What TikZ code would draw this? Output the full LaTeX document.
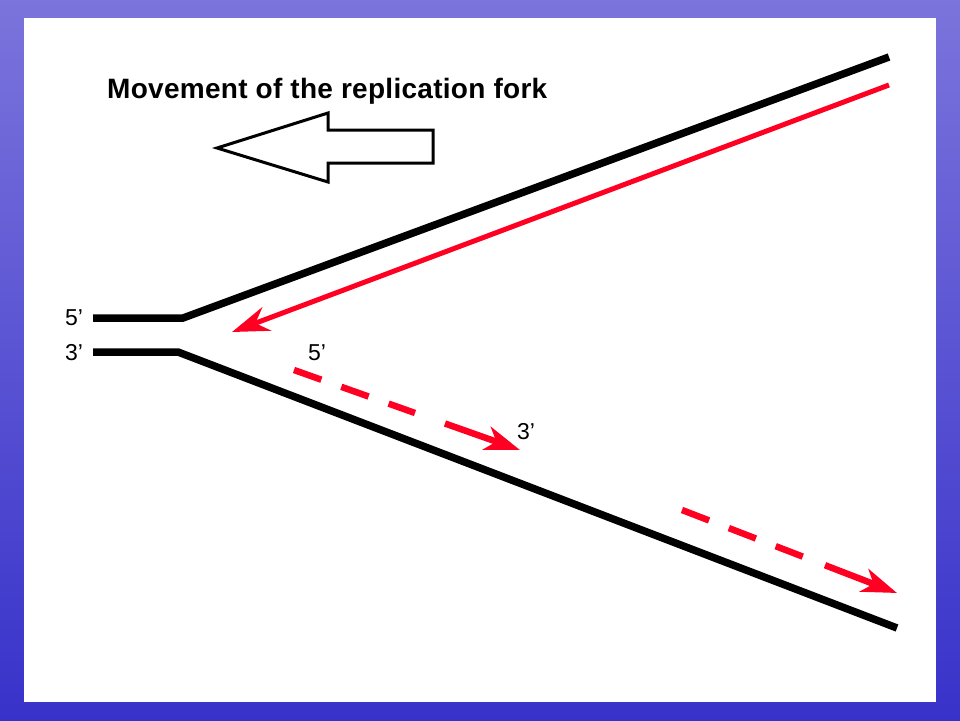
\documentclass[tikz,border=0pt]{standalone}
\usepackage{fontspec}
\setmainfont{Liberation Sans}
\usetikzlibrary{arrows.meta}
\definecolor{bgtop}{RGB}{123,116,220}
\definecolor{bgbot}{RGB}{56,50,202}
\definecolor{dnared}{RGB}{255,0,34}
\tikzset{
  strand/.style={line width=7.5pt, line cap=butt, line join=miter},
  newstrand/.style={dnared, line width=5pt, -{Stealth[length=37pt,width=25pt,inset=12pt]}},
  lagdash/.style={dnared, line width=6.5pt, dash pattern=on 29pt off 21.2pt},
  lagtip/.style={dnared, line width=6.5pt, -{Stealth[length=35pt,width=24pt,inset=10pt]}},
  endlabel/.style={font=\fontsize{23}{23}\selectfont, anchor=base west, inner sep=0pt},
  titlelabel/.style={font=\fontsize{28}{28}\selectfont\bfseries\addfontfeatures{LetterSpace=1.0}, anchor=base west, inner sep=0pt},
  hollowarrow/.style={draw=black, fill=white, line width=3pt, line join=miter},
}
\begin{document}
\begin{tikzpicture}[x=1pt,y=-1pt]
\useasboundingbox (0,0) rectangle (960,720);
\shade[top color=bgtop,bottom color=bgbot] (0,0) rectangle (960,720);
\fill[white] (24,18) rectangle (936,702);

% title and direction arrow
\node[titlelabel] (title) at (107,98) {Movement of the replication fork};
\draw[hollowarrow] (217,148) -- (328,113) -- (328,130) -- (433,130) -- (433,163) -- (328,163) -- (328,182) -- cycle;

% parental strands
\coordinate (t0) at (93,318);
\coordinate (t1) at (183,318);
\coordinate (t2) at (889,57);
\coordinate (b0) at (93,352);
\coordinate (b1) at (178,352);
\coordinate (b2) at (897,628);
\draw[strand] (t0) -- (t1) -- (t2);
\draw[strand] (b0) -- (b1) -- (b2);

% leading strand
\coordinate (r0) at (889,85);
\coordinate (r1) at (232,332);
\draw[newstrand] (r0) -- (r1);

% lagging fragments
\coordinate (a0) at (294,370);
\coordinate (a1) at (415,413);
\coordinate (a2) at (445,423.5);
\coordinate (a3) at (520,450);
\draw[lagdash] (a0) -- (a1);
\draw[lagtip] (a2) -- (a3);

\coordinate (c0) at (682,510);
\coordinate (c1) at (803,556.7);
\coordinate (c2) at (825,565.2);
\coordinate (c3) at (897,593);
\draw[lagdash] (c0) -- (c1);
\draw[lagtip] (c2) -- (c3);

% end labels
\node[endlabel] (l5) at (65,325) {5’};
\node[endlabel] (l3) at (65,360) {3’};
\node[endlabel] (m5) at (308,360) {5’};
\node[endlabel] (m3) at (517,439) {3’};
\end{tikzpicture}
\end{document}
